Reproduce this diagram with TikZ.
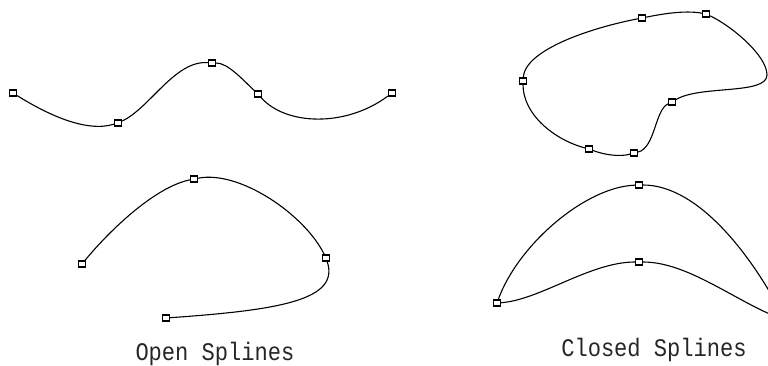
\documentclass[tikz,border=0pt]{standalone}
\usepackage{graphicx}
\usepackage{fontspec}
\setmainfont{Liberation Mono}
\newcommand{\lbltext}[1]{\scalebox{0.96}[1.1]{#1}}
\tikzset{
  pt/.style={draw=black,line width=1.2pt,inner sep=0pt,minimum width=7pt,minimum height=6pt},
  spl/.style={draw=black,line width=1.1pt},
  lab/.style={font=\fontsize{23}{25}\selectfont,text=black!85,inner sep=0pt}
}
\begin{document}
\begin{tikzpicture}[x=1pt,y=-1pt]
\useasboundingbox (0,0) rectangle (768,366);
% open spline 1
\node[pt] (a) at (13,93) {};
\node[pt] (b) at (118,123) {};
\node[pt] (c) at (212,63) {};
\node[pt] (d) at (258,94) {};
\node[pt] (e) at (392,93) {};
\draw[spl] (a) .. controls (45,113) and (85,133) .. (b);
\draw[spl] (b) .. controls (150,108) and (175,60) .. (c);
\draw[spl] (c) .. controls (228,63) and (243,80) .. (d);
\draw[spl] (d) .. controls (285,125) and (345,128) .. (e);
% open spline 2
\node[pt] (f) at (82,264) {};
\node[pt] (g) at (194,179) {};
\node[pt] (h) at (326,258) {};
\node[pt] (i) at (166,318) {};
\draw[spl] (f) .. controls (110,230) and (155,187) .. (g);
\draw[spl] (g) .. controls (240,170) and (305,215) .. (h);
\draw[spl] (h) .. controls (340,300) and (280,310) .. (i);
% closed spline 1
\node[pt] (p1) at (523,81) {};
\node[pt] (p2) at (642,18) {};
\node[pt] (p3) at (706,14) {};
\coordinate (q) at (767,75);
\node[pt] (p4) at (672,102) {};
\node[pt] (p5) at (634,153) {};
\node[pt] (p6) at (589,149) {};
\draw[spl] (p1) .. controls (525,50) and (590,28) .. (p2);
\draw[spl] (p2) .. controls (662,14) and (685,10) .. (p3);
\draw[spl] (p3) .. controls (730,25) and (767,55) .. (q);
\draw[spl] (q) .. controls (767,95) and (700,85) .. (p4);
\draw[spl] (p4) .. controls (655,110) and (655,148) .. (p5);
\draw[spl] (p5) .. controls (620,157) and (605,155) .. (p6);
\draw[spl] (p6) .. controls (555,140) and (523,115) .. (p1);
% closed spline 2
\node[pt] (l) at (497,303) {};
\node[pt] (t) at (639,185) {};
\node[pt] (m) at (639,262) {};
\coordinate (r) at (785,320);
\draw[spl] (l) .. controls (518,245) and (585,187) .. (t);
\draw[spl] (t) .. controls (700,185) and (755,260) .. (r);
\draw[spl] (l) .. controls (540,300) and (590,262) .. (m);
\draw[spl] (m) .. controls (690,262) and (740,305) .. (r);
% labels
\node[lab] (openlab) at (215,354) {\lbltext{Open Splines}};
\node[lab] (closedlab) at (654,350) {\lbltext{Closed Splines}};
\end{tikzpicture}
\end{document}
